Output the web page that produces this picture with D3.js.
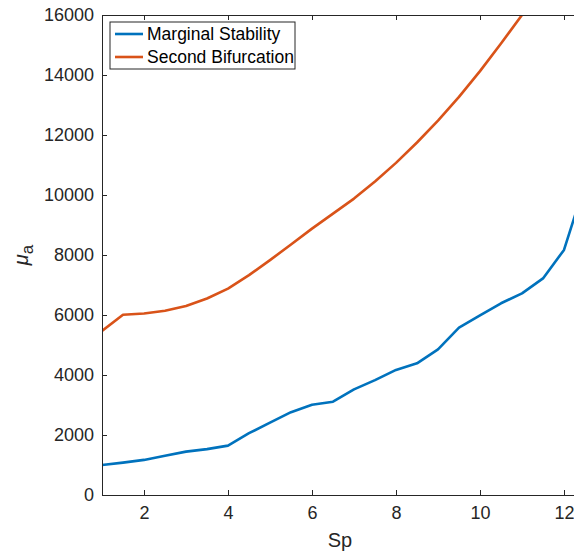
<!DOCTYPE html>
<html>
<head>
<meta charset="utf-8">
<script src="https://cdn.jsdelivr.net/npm/d3@7"></script>
<style>
  body { margin: 0; background: #fff; }
  svg { display: block; font-family: "Liberation Sans", Arial, sans-serif; }
</style>
</head>
<body>
<svg id="chart"></svg>
<script>
// Sp values, one run every 0.5
const sp = [1, 1.5, 2, 2.5, 3, 3.5, 4, 4.5, 5, 5.5, 6, 6.5, 7, 7.5, 8, 8.5,
            9, 9.5, 10, 10.5, 11, 11.5, 12, 12.5];
const marginal = [1000, 1080, 1170, 1310, 1445, 1530, 1645, 2060, 2410, 2760,
                  3010, 3110, 3520, 3830, 4170, 4390, 4855, 5580, 5990, 6390,
                  6720, 7220, 8170, 10370];
const secondBif = [5470, 6010, 6050, 6140, 6300, 6550, 6880, 7330, 7830, 8350,
                   8880, 9380, 9880, 10450, 11070, 11750, 12480, 13270, 14130,
                   15050, 16000, 17000, 18050, 19150];
const seriesNames = ["Marginal Stability", "Second Bifurcation"];
const seriesColors = ["#0072BD", "#D95319"];
const xTicks = [2, 4, 6, 8, 10, 12];
const yTicks = [0, 2000, 4000, 6000, 8000, 10000, 12000, 14000, 16000];

const width = 574, height = 552;
const margin = {top: 15, right: -11, bottom: 57, left: 102};
const axisColor = "#262626";

const svg = d3.select("#chart")
    .attr("width", width)
    .attr("height", height);

const x = d3.scaleLinear()
    .domain([1, 12.5])
    .range([margin.left, width - margin.right]);
const y = d3.scaleLinear()
    .domain([0, 16000])
    .range([height - margin.bottom, margin.top]);

svg.append("defs").append("clipPath")
    .attr("id", "plot-clip")
  .append("rect")
    .attr("x", margin.left)
    .attr("y", margin.top)
    .attr("width", width - margin.right - margin.left)
    .attr("height", height - margin.bottom - margin.top);

const line = d3.line()
    .x(d => x(d[0]))
    .y(d => y(d[1]));

const series = [marginal, secondBif].map(vals => sp.map((s, i) => [s, vals[i]]));

svg.append("g")
    .attr("clip-path", "url(#plot-clip)")
  .selectAll("path")
  .data(series)
  .join("path")
    .attr("fill", "none")
    .attr("stroke", (d, i) => seriesColors[i])
    .attr("stroke-width", 2.6)
    .attr("stroke-linejoin", "round")
    .attr("d", line);

// axes, ticks pointing inward like a MATLAB figure
function styleAxis(g) {
    g.select(".domain").attr("stroke", axisColor).attr("stroke-width", 1);
    g.selectAll(".tick line").attr("stroke", axisColor);
    g.selectAll(".tick text")
        .attr("fill", axisColor)
        .attr("font-size", 18);
}

svg.append("g")
    .attr("transform", `translate(0,${height - margin.bottom})`)
    .call(d3.axisBottom(x).tickValues(xTicks).tickSizeInner(-5).tickSizeOuter(0).tickPadding(11))
    .call(styleAxis);

svg.append("g")
    .attr("transform", `translate(0,${margin.top})`)
    .call(d3.axisTop(x).tickValues(xTicks).tickSizeInner(-5).tickSizeOuter(0).tickFormat(""))
    .call(styleAxis);

svg.append("g")
    .attr("transform", `translate(${margin.left},0)`)
    .call(d3.axisLeft(y).tickValues(yTicks).tickFormat(d3.format("d"))
        .tickSizeInner(-5).tickSizeOuter(0).tickPadding(8))
    .call(styleAxis);

// axis labels
svg.append("text")
    .attr("x", 340)
    .attr("y", 547)
    .attr("text-anchor", "middle")
    .attr("font-size", 20)
    .attr("fill", axisColor)
    .text("Sp");

const yLabel = svg.append("text")
    .attr("transform", "translate(28,255) rotate(-90)")
    .attr("text-anchor", "middle")
    .attr("font-size", 20)
    .attr("fill", axisColor);
yLabel.append("tspan").attr("font-style", "italic").text("μ");
yLabel.append("tspan").attr("dy", 5).attr("font-size", 17).text("a");

// legend
const legend = svg.append("g").attr("transform", "translate(110,22)");
legend.append("rect")
    .attr("width", 185)
    .attr("height", 47)
    .attr("fill", "#fff")
    .attr("stroke", axisColor)
    .attr("stroke-width", 1);

const item = legend.selectAll("g.item")
  .data(seriesNames)
  .join("g")
    .attr("class", "item")
    .attr("transform", (d, i) => `translate(0,${12 + i * 23})`);
item.append("line")
    .attr("x1", 5).attr("x2", 33)
    .attr("stroke", (d, i) => seriesColors[i])
    .attr("stroke-width", 2.6);
item.append("text")
    .attr("x", 37)
    .attr("dy", "0.35em")
    .attr("font-size", 17.5)
    .attr("fill", "#000")
    .text(d => d);
</script>
</body>
</html>
